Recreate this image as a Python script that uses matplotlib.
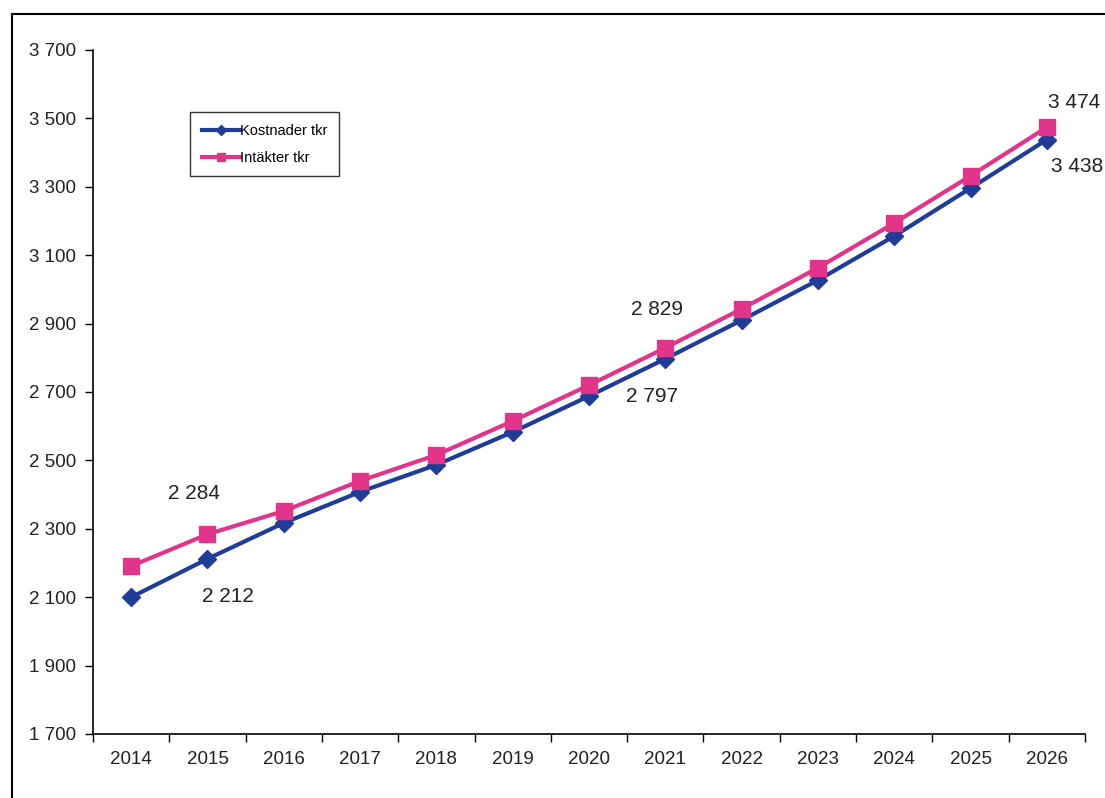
import matplotlib
matplotlib.use("Agg")
import matplotlib.pyplot as plt
from matplotlib.ticker import FuncFormatter, FixedLocator
from matplotlib.lines import Line2D

years = [str(y) for y in range(2014, 2027)]
kostnader = [2100, 2212, 2317, 2408, 2487, 2583, 2688, 2797, 2910, 3027, 3156, 3296, 3438]
intakter = [2191, 2284, 2352, 2440, 2516, 2615, 2720, 2829, 2943, 3063, 3194, 3332, 3474]

BLUE = "#1f3c96"
PINK = "#e0358a"

plt.rcParams["font.family"] = ["Liberation Sans", "DejaVu Sans"]

def fmt(v, _pos=None):
    # thousands with a space, e.g. "3 700"
    return f"{int(v):,}".replace(",", " ")

fig = plt.figure(figsize=(11.05, 7.98), dpi=100)
ax = fig.add_axes([93 / 1105, 64 / 798, 992 / 1105, 684 / 798])

x = list(range(len(years)))
ax.plot(x, kostnader, color=BLUE, lw=3, marker="D", ms=9, label="Kostnader tkr", zorder=3)
ax.plot(x, intakter, color=PINK, lw=3, marker="s", ms=11, label="Intäkter tkr", zorder=4)

ax.set_xlim(-0.5, len(years) - 0.5)
ax.set_ylim(1700, 3700)
ax.set_yticks(range(1700, 3701, 200))
ax.yaxis.set_major_formatter(FuncFormatter(fmt))

# categories sit between the tick marks, like Excel
ax.set_xticks(x)
ax.set_xticklabels(years)
ax.tick_params(axis="x", which="major", length=0, pad=12, labelsize=13.5, labelcolor="#222222")
ax.xaxis.set_minor_locator(FixedLocator([i - 0.5 for i in range(len(years) + 1)]))
ax.tick_params(axis="x", which="minor", length=6, width=1, direction="out")
ax.tick_params(axis="y", length=6, width=1, labelsize=13.5, pad=6, labelcolor="#222222")

for s in ["top", "right"]:
    ax.spines[s].set_visible(False)
for s in ["left", "bottom"]:
    ax.spines[s].set_linewidth(1.2)

# value labels
def lab(i, series, dx, dy, ha="center"):
    ax.annotate(fmt(series[i]), (i, series[i]), xytext=(dx, dy), textcoords="offset pixels",
                ha=ha, va="center", fontsize=15, color="#222222", annotation_clip=False)

lab(1, intakter, -13, 41)
lab(1, kostnader, 20, -38)
lab(7, intakter, -8, 38)
lab(7, kostnader, -13, -38)
lab(12, intakter, 27, 25)
lab(12, kostnader, 4, -27, ha="left")

handles = [Line2D([], [], color=BLUE, lw=3, marker="D", ms=5),
           Line2D([], [], color=PINK, lw=3, marker="s", ms=6)]
leg = ax.legend(handles, ["Kostnader tkr", "Intäkter tkr"], loc="upper left",
                bbox_to_anchor=(97 / 992, 622 / 684), fontsize=10.5, frameon=True,
                fancybox=False, edgecolor="black", handlelength=2.6, handletextpad=0.0,
                borderpad=0.8, labelspacing=0.9, borderaxespad=0)
leg.get_frame().set_linewidth(1.0)

# outer chart frame (only left and top visible in the scan)
fig.add_artist(Line2D([12 / 1105, 12 / 1105], [0, 1 - 14 / 798], transform=fig.transFigure,
                      color="black", lw=1.5))
fig.add_artist(Line2D([12 / 1105, 1], [1 - 14 / 798, 1 - 14 / 798], transform=fig.transFigure,
                      color="black", lw=1.5))

fig.savefig("out.png", dpi=100)
